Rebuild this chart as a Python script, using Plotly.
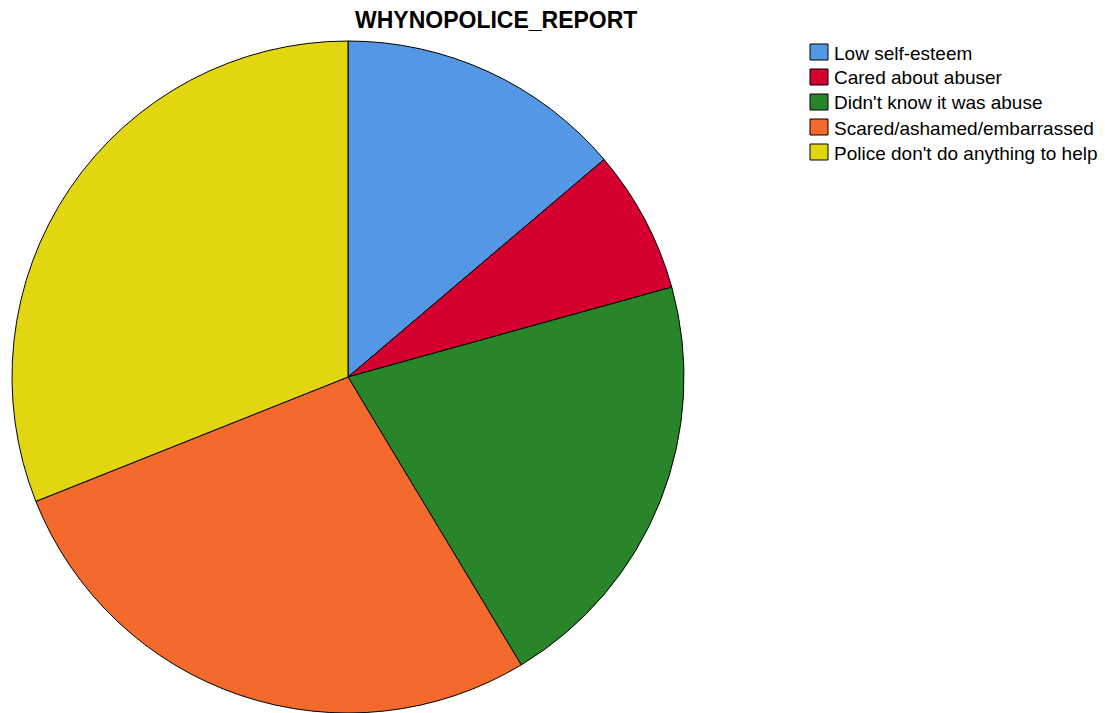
import plotly.graph_objects as go

# Reasons for not reporting to police (counts)
labels = [
    "Low self-esteem",
    "Cared about abuser",
    "Didn't know it was abuse",
    "Scared/ashamed/embarrassed",
    "Police don't do anything to help",
]
counts = [4, 2, 6, 8, 9]
colors = ["#5497E5", "#D4002F", "#298529", "#F4692C", "#E2D610"]

W, H = 1105, 713
FONT = "Liberation Sans, Arial, sans-serif"

fig = go.Figure()
fig.add_trace(go.Pie(
    labels=labels,
    values=counts,
    sort=False,
    direction="clockwise",
    rotation=0,
    textinfo="none",
    hoverinfo="label+value+percent",
    marker=dict(colors=colors, line=dict(color="#000000", width=1)),
    domain=dict(x=[12 / W, 684 / W], y=[0.0, 672 / H]),
    showlegend=False,
))

# Legend drawn as swatches + labels on the right
shapes = []
annotations = []
x0, sw, sh = 810, 18, 16
y_first, step = 52, 25
for i, (lab, col) in enumerate(zip(labels, colors)):
    yc = y_first + i * step
    shapes.append(dict(
        type="rect", xref="paper", yref="paper",
        x0=x0 / W, x1=(x0 + sw) / W,
        y0=1 - (yc + sh / 2) / H, y1=1 - (yc - sh / 2) / H,
        fillcolor=col, line=dict(color="#000000", width=1),
    ))
    annotations.append(dict(
        x=832 / W, y=1 - (yc + 1) / H, xref="paper", yref="paper",
        text=lab, showarrow=False, xanchor="left", yanchor="middle",
        font=dict(family=FONT, size=19, color="#000000"),
    ))

annotations.append(dict(
    x=496 / W, y=1 - 20 / H, xref="paper", yref="paper",
    text="<b>WHYNOPOLICE_REPORT</b>", showarrow=False,
    xanchor="center", yanchor="middle",
    font=dict(family=FONT, size=23, color="#000000"),
))

fig.update_layout(
    width=W, height=H,
    margin=dict(l=0, r=0, t=0, b=0),
    paper_bgcolor="#FFFFFF",
    plot_bgcolor="#FFFFFF",
    shapes=shapes,
    annotations=annotations,
)

fig.write_html("out.html")
